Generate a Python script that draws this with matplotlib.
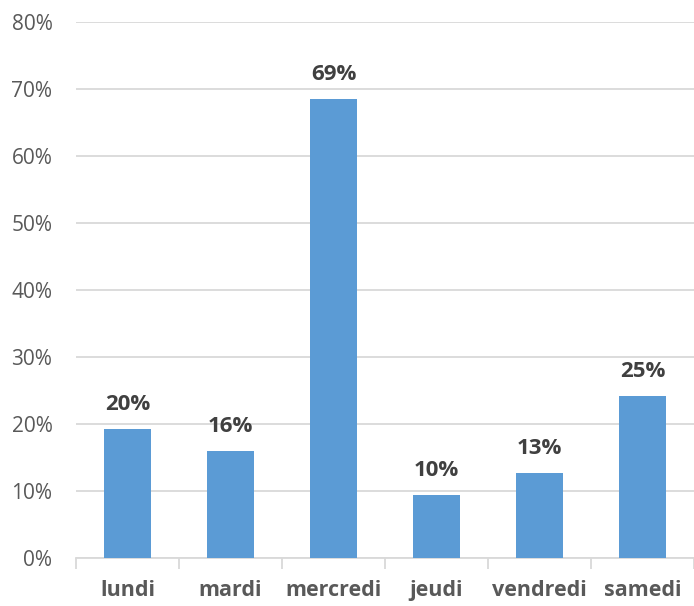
import matplotlib
matplotlib.use("Agg")
import matplotlib.pyplot as plt
import numpy as np
from matplotlib.ticker import PercentFormatter

# data
days = ['lundi', 'mardi', 'mercredi', 'jeudi', 'vendredi', 'samedi']
values = [0.193, 0.160, 0.685, 0.094, 0.127, 0.242]
labels = ['20%', '16%', '69%', '10%', '13%', '25%']

plt.rcParams['font.family'] = ['Open Sans', 'DejaVu Sans']

fig = plt.figure(figsize=(6.94, 6.06), dpi=100)
ax = fig.add_axes([76 / 694, 48 / 606, 618 / 694, 536 / 606])

x = np.arange(len(days))
bars = ax.bar(x, values, width=0.46, color='#5B9BD5', zorder=3)

for b, lab in zip(bars, labels):
    ax.annotate(lab, (b.get_x() + b.get_width() / 2, b.get_height()),
                xytext=(0, 10), textcoords='offset points',
                ha='center', va='bottom', fontsize=16, fontweight='bold',
                color='#404040')

ax.set_ylim(0, 0.8)
ax.set_xlim(-0.5, len(days) - 0.5)
ax.set_yticks(np.arange(0, 0.81, 0.1))
ax.yaxis.set_major_formatter(PercentFormatter(1.0, decimals=0))
ax.grid(axis='y', color='#d9d9d9', linewidth=1.3, zorder=0)
ax.tick_params(axis='y', length=0, pad=17, labelsize=15, labelcolor='#595959')

# category boundaries get the tick marks, names sit at the centres
ax.set_xticks(np.arange(-0.5, len(days)), labels=[''] * (len(days) + 1))
ax.set_xticks(x, labels=days, minor=True)
ax.tick_params(axis='x', which='major', length=8, width=1.3, color='#d9d9d9')
ax.tick_params(axis='x', which='minor', length=0, pad=16, labelsize=15.5,
               labelcolor='#595959')
for t in ax.get_xticklabels(minor=True):
    t.set_fontweight('bold')

for s in ['top', 'right', 'left']:
    ax.spines[s].set_visible(False)
ax.spines['bottom'].set_color('#d9d9d9')
ax.spines['bottom'].set_linewidth(1.3)

fig.savefig('out.png', dpi=100)
